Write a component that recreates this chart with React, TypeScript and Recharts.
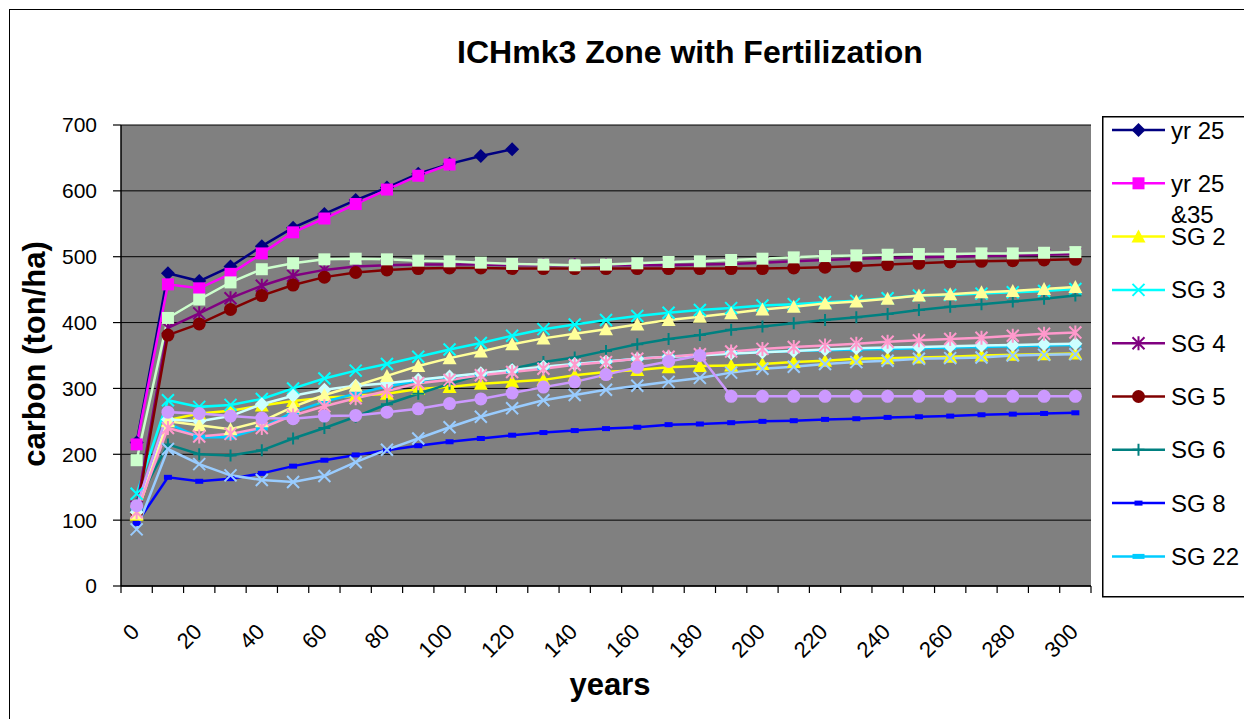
import React from "react";
import { LineChart, Line, XAxis, YAxis, CartesianGrid } from "recharts";

// years after stand establishment
const years = [
  0, 10, 20, 30, 40, 50, 60, 70, 80, 90, 100, 110, 120, 130, 140, 150, 160,
  170, 180, 190, 200, 210, 220, 230, 240, 250, 260, 270, 280, 290, 300,
];
const yearLabels = [0, 20, 40, 60, 80, 100, 120, 140, 160, 180, 200, 220, 240, 260, 280, 300];
const carbonTicks = [0, 100, 200, 300, 400, 500, 600, 700];

// carbon (ton/ha) per scenario
const yr25 = [218, 475, 463, 485, 516, 544, 565, 586, 605, 626, 641, 653, 663];
const yr25and35 = [215, 458, 452, 474, 505, 537, 558, 580, 602, 623, 640];
const sg2 = [108, 252, 262, 266, 274, 281, 286, 289, 292, 299, 302, 307, 310, 313, 320, 325, 328, 332, 334, 335, 337, 340, 342, 345, 346, 347, 348, 350, 351, 352, 353];
const sg3 = [140, 282, 272, 275, 284, 300, 315, 327, 337, 348, 359, 369, 380, 390, 397, 404, 410, 415, 419, 422, 426, 428, 431, 433, 437, 441, 442, 444, 446, 448, 451];
const sg4 = [120, 392, 414, 437, 456, 471, 480, 485, 487, 488, 488, 488, 487, 487, 487, 487, 487, 487, 488, 489, 491, 493, 495, 497, 498, 499, 500, 501, 502, 503, 504];
const sg5 = [112, 381, 398, 420, 441, 457, 469, 476, 480, 482, 483, 483, 482, 482, 482, 482, 482, 482, 482, 482, 482, 483, 484, 486, 488, 490, 492, 493, 494, 495, 496];
const sg6 = [125, 215, 200, 198, 206, 224, 240, 257, 276, 292, 307, 321, 330, 340, 347, 357, 367, 375, 381, 389, 394, 399, 404, 408, 413, 419, 424, 428, 432, 436, 441];
const sg8 = [95, 165, 159, 163, 171, 182, 191, 199, 206, 213, 219, 224, 229, 233, 236, 239, 241, 245, 246, 248, 250, 251, 253, 254, 256, 257, 258, 260, 261, 262, 263];
const sg22 = [115, 247, 226, 226, 240, 264, 280, 292, 303, 312, 318, 322, 327, 332, 337, 341, 345, 348, 351, 353, 355, 357, 358, 359, 360, 361, 362, 363, 364, 365, 366];
const paleCyan = [112, 253, 250, 258, 276, 289, 298, 304, 308, 313, 318, 323, 328, 333, 337, 341, 345, 348, 350, 353, 355, 357, 359, 361, 362, 363, 364, 365, 366, 367, 368];
const paleGreen = [191, 407, 435, 461, 481, 490, 496, 497, 496, 494, 493, 491, 489, 488, 487, 488, 490, 492, 493, 495, 497, 499, 501, 502, 503, 504, 504, 505, 505, 506, 507];
const paleYellow = [110, 250, 244, 238, 250, 272, 290, 304, 319, 334, 346, 356, 367, 376, 383, 390, 397, 404, 409, 414, 420, 424, 429, 432, 436, 441, 443, 446, 448, 451, 454];
const paleBlue = [86, 208, 185, 168, 161, 158, 167, 188, 207, 224, 241, 257, 270, 282, 290, 298, 304, 310, 316, 324, 330, 333, 337, 340, 342, 345, 346, 347, 350, 351, 352];
const rose = [112, 240, 227, 231, 240, 259, 273, 285, 296, 308, 313, 320, 325, 330, 336, 340, 345, 348, 352, 356, 360, 363, 365, 368, 371, 373, 375, 377, 380, 383, 385];
const lavender = [122, 264, 262, 258, 255, 254, 258, 259, 264, 269, 277, 284, 293, 302, 310, 321, 332, 341, 350, 288, 288, 288, 288, 288, 288, 288, 288, 288, 288, 288, 288];

type MarkerKind =
  | "diamond"
  | "square"
  | "triangle"
  | "cross"
  | "star"
  | "circle"
  | "plus"
  | "dash"
  | "longDash";

type Series = {
  key: string;
  name?: string;
  color: string;
  marker: MarkerKind;
  values: number[];
};

const series: Series[] = [
  { key: "yr25", name: "yr 25", color: "#000080", marker: "diamond", values: yr25 },
  { key: "yr25and35", name: "yr 25 &35", color: "#FF00FF", marker: "square", values: yr25and35 },
  { key: "sg2", name: "SG 2", color: "#FFFF00", marker: "triangle", values: sg2 },
  { key: "sg3", name: "SG 3", color: "#00FFFF", marker: "cross", values: sg3 },
  { key: "sg4", name: "SG 4", color: "#800080", marker: "star", values: sg4 },
  { key: "sg5", name: "SG 5", color: "#800000", marker: "circle", values: sg5 },
  { key: "sg6", name: "SG 6", color: "#008080", marker: "plus", values: sg6 },
  { key: "sg8", name: "SG 8", color: "#0000FF", marker: "dash", values: sg8 },
  { key: "sg22", name: "SG 22", color: "#00CCFF", marker: "longDash", values: sg22 },
  { key: "paleCyan", color: "#CCFFFF", marker: "diamond", values: paleCyan },
  { key: "paleGreen", color: "#CCFFCC", marker: "square", values: paleGreen },
  { key: "paleYellow", color: "#FFFF99", marker: "triangle", values: paleYellow },
  { key: "paleBlue", color: "#99CCFF", marker: "cross", values: paleBlue },
  { key: "rose", color: "#FF99CC", marker: "star", values: rose },
  { key: "lavender", color: "#CC99FF", marker: "circle", values: lavender },
];

const chartData = years.map((year, i) => {
  const row: Record<string, number | null> = { year };
  series.forEach((s) => {
    row[s.key] = s.values[i] ?? null;
  });
  return row;
});

// category boundaries carry the tick marks, every other category gets a label
const boundaryTicks = [...years.map((y) => y - 5), years[years.length - 1] + 5];
const xTicks = [...boundaryTicks, ...yearLabels].sort((a, b) => a - b);

const FONT = "'Liberation Sans', Arial, sans-serif";

function Marker({ kind, x, y, color }: { kind: MarkerKind; x: number; y: number; color: string }) {
  switch (kind) {
    case "diamond":
      return <polygon points={`${x},${y - 7} ${x + 7},${y} ${x},${y + 7} ${x - 7},${y}`} fill={color} />;
    case "square":
      return <rect x={x - 6} y={y - 6} width={12} height={12} fill={color} />;
    case "triangle":
      return <polygon points={`${x},${y - 7} ${x + 7},${y + 6} ${x - 7},${y + 6}`} fill={color} />;
    case "cross":
      return (
        <path
          d={`M${x - 6},${y - 6}L${x + 6},${y + 6}M${x + 6},${y - 6}L${x - 6},${y + 6}`}
          stroke={color}
          strokeWidth={2}
        />
      );
    case "star":
      return (
        <path
          d={`M${x - 6},${y - 6}L${x + 6},${y + 6}M${x + 6},${y - 6}L${x - 6},${y + 6}M${x},${y - 7}L${x},${y + 7}`}
          stroke={color}
          strokeWidth={2}
        />
      );
    case "circle":
      return <circle cx={x} cy={y} r={6.5} fill={color} />;
    case "plus":
      return (
        <path d={`M${x - 6},${y}L${x + 6},${y}M${x},${y - 6}L${x},${y + 6}`} stroke={color} strokeWidth={2} />
      );
    case "dash":
      return <rect x={x - 4} y={y - 2.5} width={8} height={5} fill={color} />;
    case "longDash":
      return <rect x={x - 6} y={y - 2.5} width={12} height={5} fill={color} />;
  }
}

const makeDot = (s: Series) => (props: any) => {
  const { cx, cy, index } = props;
  if (cx == null || cy == null || props.value == null) return <g key={`${s.key}-${index}`} />;
  return (
    <g key={`${s.key}-${index}`}>
      <Marker kind={s.marker} x={cx} y={cy} color={s.color} />
    </g>
  );
};

const YearTick = (props: any) => {
  const { x, y, payload } = props;
  const v = payload.value;
  if (yearLabels.includes(v)) {
    return (
      <text
        x={x + 4}
        y={y + 47}
        textAnchor="end"
        transform={`rotate(-45, ${x + 4}, ${y + 47})`}
        fontFamily={FONT}
        fontSize={22}
        fill="#000"
      >
        {v}
      </text>
    );
  }
  return <line x1={x} y1={y} x2={x} y2={y + 7} stroke="#000" strokeWidth={1.2} />;
};

const legendSeries = series.filter((s) => s.name);

function ChartLegend() {
  const rowGap = 53.3;
  return (
    <svg
      width={160}
      height={482}
      style={{ position: "absolute", left: 1094, top: 108 }}
    >
      <rect x={0.75} y={0.75} width={170} height={480} fill="#fff" stroke="#000" strokeWidth={1.5} />
      {legendSeries.map((s, i) => {
        const cy = 14 + rowGap * i;
        const parts = s.name!.split(" &");
        return (
          <g key={s.key}>
            <line x1={10} y1={cy} x2={63} y2={cy} stroke={s.color} strokeWidth={2.5} />
            <Marker kind={s.marker} x={36.5} y={cy} color={s.color} />
            <text x={69} y={cy + 8.5} fontFamily={FONT} fontSize={24} fill="#000">
              {parts.length > 1 ? (
                <>
                  <tspan>{parts[0]}</tspan>
                  <tspan x={69} dy={31}>{`&${parts[1]}`}</tspan>
                </>
              ) : (
                s.name
              )}
            </text>
          </g>
        );
      })}
    </svg>
  );
}

export default function App() {
  return (
    <div style={{ position: "relative", width: 1244, height: 711, overflow: "hidden", background: "#fff" }}>
      <LineChart
        width={1244}
        height={711}
        data={chartData}
        margin={{ top: 117, right: 161, bottom: 73, left: 53 }}
      >
        <CartesianGrid vertical={false} stroke="#000" strokeWidth={1} fill="#808080" fillOpacity={1} />
        <XAxis
          dataKey="year"
          type="number"
          domain={[-5, 305]}
          allowDataOverflow
          ticks={xTicks}
          interval={0}
          tick={<YearTick />}
          tickLine={false}
          tickSize={0}
          tickMargin={0}
          height={60}
          axisLine={{ stroke: "#000", strokeWidth: 1.5 }}
        />
        <YAxis
          type="number"
          domain={[0, 700]}
          ticks={carbonTicks}
          interval={0}
          width={60}
          tickSize={8}
          tickMargin={16}
          tick={{ fontFamily: FONT, fontSize: 21, fill: "#000" }}
          tickLine={{ stroke: "#000", strokeWidth: 1.2 }}
          axisLine={{ stroke: "#000", strokeWidth: 1.5 }}
        />
        {series.map((s) => (
          <Line
            key={s.key}
            dataKey={s.key}
            name={s.name ?? s.key}
            type="linear"
            stroke={s.color}
            strokeWidth={2.5}
            dot={makeDot(s)}
            activeDot={false}
            isAnimationActive={false}
          />
        ))}
        <text x={682} y={55} textAnchor="middle" fontFamily={FONT} fontWeight="bold" fontSize={32} fill="#000">
          ICHmk3 Zone with Fertilization
        </text>
        <text
          x={37}
          y={346}
          textAnchor="middle"
          transform="rotate(-90, 37, 346)"
          fontFamily={FONT}
          fontWeight="bold"
          fontSize={31}
          fill="#000"
        >
          carbon (ton/ha)
        </text>
        <text x={602} y={687} textAnchor="middle" fontFamily={FONT} fontWeight="bold" fontSize={31} fill="#000">
          years
        </text>
      </LineChart>
      <ChartLegend />
      <div
        style={{
          position: "absolute",
          left: 1,
          top: 1,
          width: 1300,
          height: 800,
          borderTop: "1.5px solid #000",
          borderLeft: "1.5px solid #000",
          pointerEvents: "none",
        }}
      />
    </div>
  );
}
